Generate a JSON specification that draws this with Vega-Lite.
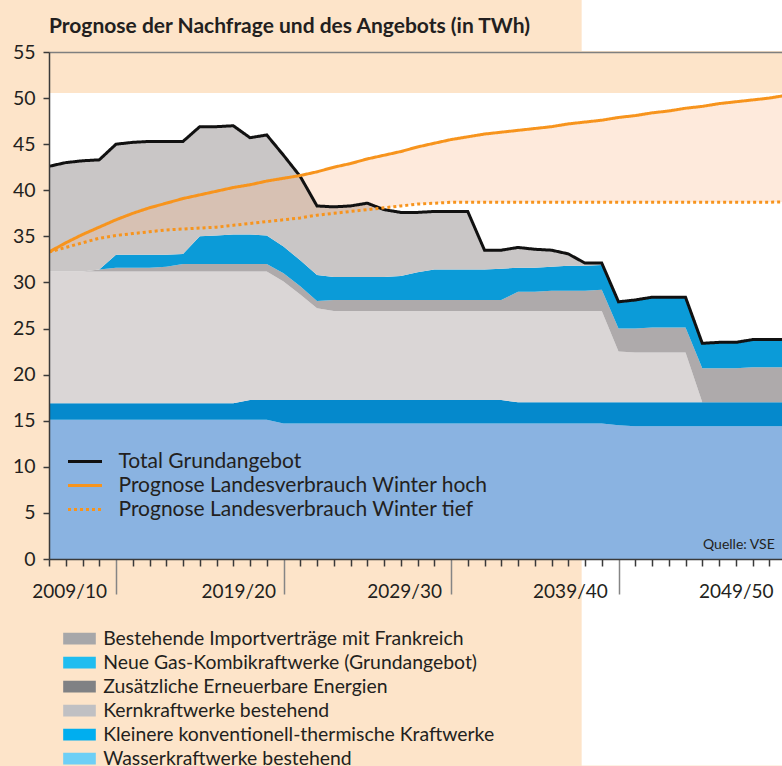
{
  "$schema": "https://vega.github.io/schema/vega-lite/v6.json",
  "width": 733,
  "height": 507,
  "autosize": {"type": "none"},
  "padding": {"left": 49, "top": 52, "right": 0, "bottom": 207},
  "background": "#fde4c9",
  "title": {"text": "Prognose der Nachfrage und des Angebots (in TWh)", "anchor": "start", "frame": "group", "orient": "top", "font": "Lato", "fontSize": 21, "fontWeight": "bold", "color": "#231f20", "baseline": "alphabetic", "offset": -54},
  "datasets": {
    "sources": [
      {"code": "a", "name": "Wasserkraftwerke bestehend"},
      {"code": "b", "name": "Kleinere konventionell-thermische Kraftwerke"},
      {"code": "c", "name": "Kernkraftwerke bestehend"},
      {"code": "d", "name": "Zusätzliche Erneuerbare Energien"},
      {"code": "e", "name": "Neue Gas-Kombikraftwerke (Grundangebot)"},
      {"code": "f", "name": "Bestehende Importverträge mit Frankreich"}
    ],
    "series": [
      {"code": "total", "name": "Total Grundangebot"},
      {"code": "hoch", "name": "Prognose Landesverbrauch Winter hoch"},
      {"code": "tief", "name": "Prognose Landesverbrauch Winter tief"}
    ],
    "years": [
      {"t":2006,"a":15.1,"b":1.8,"c":14.3,"d":0,"e":0,"f":11.4,"total":42.6,"hoch":33.3,"tief":33.3},
      {"t":2007,"a":15.1,"b":1.8,"c":14.3,"d":0,"e":0,"f":11.8,"total":43.0,"hoch":34.3,"tief":33.8},
      {"t":2008,"a":15.1,"b":1.8,"c":14.3,"d":0,"e":0,"f":12.0,"total":43.2,"hoch":35.2,"tief":34.3},
      {"t":2009,"a":15.1,"b":1.8,"c":14.3,"d":0.2,"e":0,"f":11.9,"total":43.3,"hoch":36.0,"tief":34.8},
      {"t":2010,"a":15.1,"b":1.8,"c":14.3,"d":0.4,"e":1.4,"f":12.0,"total":45.0,"hoch":36.8,"tief":35.1},
      {"t":2011,"a":15.1,"b":1.8,"c":14.3,"d":0.4,"e":1.4,"f":12.2,"total":45.2,"hoch":37.5,"tief":35.3},
      {"t":2012,"a":15.1,"b":1.8,"c":14.3,"d":0.4,"e":1.4,"f":12.3,"total":45.3,"hoch":38.1,"tief":35.5},
      {"t":2013,"a":15.1,"b":1.8,"c":14.3,"d":0.5,"e":1.3,"f":12.3,"total":45.3,"hoch":38.6,"tief":35.7},
      {"t":2014,"a":15.1,"b":1.8,"c":14.3,"d":0.8,"e":1.1,"f":12.2,"total":45.3,"hoch":39.1,"tief":35.8},
      {"t":2015,"a":15.1,"b":1.8,"c":14.3,"d":0.8,"e":3.0,"f":11.9,"total":46.9,"hoch":39.5,"tief":35.9},
      {"t":2016,"a":15.1,"b":1.8,"c":14.3,"d":0.8,"e":3.1,"f":11.8,"total":46.9,"hoch":39.9,"tief":36.0},
      {"t":2017,"a":15.1,"b":1.8,"c":14.3,"d":0.8,"e":3.2,"f":11.8,"total":47.0,"hoch":40.3,"tief":36.2},
      {"t":2018,"a":15.1,"b":2.15,"c":13.95,"d":0.8,"e":3.2,"f":10.5,"total":45.7,"hoch":40.6,"tief":36.4},
      {"t":2019,"a":15.1,"b":2.15,"c":13.95,"d":0.8,"e":3.1,"f":10.9,"total":46.0,"hoch":41.0,"tief":36.6},
      {"t":2020,"a":14.7,"b":2.55,"c":12.85,"d":0.9,"e":2.9,"f":9.9,"total":43.8,"hoch":41.3,"tief":36.8},
      {"t":2021,"a":14.7,"b":2.55,"c":11.45,"d":0.9,"e":2.8,"f":9.1,"total":41.5,"hoch":41.6,"tief":37.0},
      {"t":2022,"a":14.7,"b":2.55,"c":9.95,"d":0.8,"e":2.8,"f":7.5,"total":38.3,"hoch":42.0,"tief":37.3},
      {"t":2023,"a":14.7,"b":2.55,"c":9.65,"d":1.2,"e":2.5,"f":7.6,"total":38.2,"hoch":42.5,"tief":37.5},
      {"t":2024,"a":14.7,"b":2.55,"c":9.65,"d":1.2,"e":2.5,"f":7.7,"total":38.3,"hoch":42.9,"tief":37.7},
      {"t":2025,"a":14.7,"b":2.55,"c":9.65,"d":1.2,"e":2.5,"f":8.0,"total":38.6,"hoch":43.4,"tief":37.9},
      {"t":2026,"a":14.7,"b":2.55,"c":9.65,"d":1.2,"e":2.5,"f":7.3,"total":37.9,"hoch":43.8,"tief":38.1},
      {"t":2027,"a":14.7,"b":2.55,"c":9.65,"d":1.2,"e":2.6,"f":6.9,"total":37.6,"hoch":44.2,"tief":38.3},
      {"t":2028,"a":14.7,"b":2.55,"c":9.65,"d":1.2,"e":3.0,"f":6.5,"total":37.6,"hoch":44.7,"tief":38.5},
      {"t":2029,"a":14.7,"b":2.55,"c":9.65,"d":1.2,"e":3.3,"f":6.3,"total":37.7,"hoch":45.1,"tief":38.6},
      {"t":2030,"a":14.7,"b":2.55,"c":9.65,"d":1.2,"e":3.3,"f":6.3,"total":37.7,"hoch":45.5,"tief":38.7},
      {"t":2031,"a":14.7,"b":2.55,"c":9.65,"d":1.2,"e":3.3,"f":6.3,"total":37.7,"hoch":45.8,"tief":38.7},
      {"t":2032,"a":14.7,"b":2.55,"c":9.65,"d":1.2,"e":3.3,"f":2.1,"total":33.5,"hoch":46.1,"tief":38.7},
      {"t":2033,"a":14.7,"b":2.55,"c":9.65,"d":1.2,"e":3.4,"f":2.0,"total":33.5,"hoch":46.3,"tief":38.7},
      {"t":2034,"a":14.7,"b":2.3,"c":9.9,"d":2.1,"e":2.6,"f":2.2,"total":33.8,"hoch":46.5,"tief":38.7},
      {"t":2035,"a":14.7,"b":2.3,"c":9.9,"d":2.1,"e":2.6,"f":2.0,"total":33.6,"hoch":46.7,"tief":38.7},
      {"t":2036,"a":14.7,"b":2.3,"c":9.9,"d":2.2,"e":2.6,"f":1.8,"total":33.5,"hoch":46.9,"tief":38.7},
      {"t":2037,"a":14.7,"b":2.3,"c":9.9,"d":2.2,"e":2.7,"f":1.3,"total":33.1,"hoch":47.2,"tief":38.7},
      {"t":2038,"a":14.7,"b":2.3,"c":9.9,"d":2.2,"e":2.7,"f":0.3,"total":32.1,"hoch":47.4,"tief":38.7},
      {"t":2039,"a":14.7,"b":2.3,"c":9.9,"d":2.3,"e":2.7,"f":0.2,"total":32.1,"hoch":47.6,"tief":38.7},
      {"t":2040,"a":14.5,"b":2.5,"c":5.5,"d":2.5,"e":2.9,"f":0,"total":27.9,"hoch":47.9,"tief":38.7},
      {"t":2041,"a":14.4,"b":2.6,"c":5.4,"d":2.6,"e":3.1,"f":0,"total":28.1,"hoch":48.1,"tief":38.7},
      {"t":2042,"a":14.4,"b":2.6,"c":5.4,"d":2.7,"e":3.3,"f":0,"total":28.4,"hoch":48.4,"tief":38.7},
      {"t":2043,"a":14.4,"b":2.6,"c":5.4,"d":2.7,"e":3.3,"f":0,"total":28.4,"hoch":48.6,"tief":38.7},
      {"t":2044,"a":14.4,"b":2.6,"c":5.4,"d":2.7,"e":3.3,"f":0,"total":28.4,"hoch":48.9,"tief":38.7},
      {"t":2045,"a":14.4,"b":2.6,"c":0,"d":3.7,"e":2.7,"f":0,"total":23.4,"hoch":49.1,"tief":38.7},
      {"t":2046,"a":14.4,"b":2.6,"c":0,"d":3.7,"e":2.8,"f":0,"total":23.5,"hoch":49.4,"tief":38.7},
      {"t":2047,"a":14.4,"b":2.6,"c":0,"d":3.7,"e":2.8,"f":0,"total":23.5,"hoch":49.6,"tief":38.7},
      {"t":2048,"a":14.4,"b":2.6,"c":0,"d":3.8,"e":3.0,"f":0,"total":23.8,"hoch":49.8,"tief":38.7},
      {"t":2049,"a":14.4,"b":2.6,"c":0,"d":3.8,"e":3.0,"f":0,"total":23.8,"hoch":50.0,"tief":38.7},
      {"t":2050,"a":14.4,"b":2.6,"c":0,"d":3.8,"e":3.0,"f":0,"total":23.8,"hoch":50.3,"tief":38.75}
    ]
  },
  "layer": [
    {
      "data": {"values": [{}]},
      "mark": {"type": "rect", "color": "#ffffff"},
      "encoding": {
        "x": {"datum": 2006, "type": "quantitative", "scale": {"domain": [2006, 2049.76], "nice": false, "zero": false}, "axis": null},
        "x2": {"datum": 2049.76},
        "y": {"datum": 0, "type": "quantitative", "scale": {"domain": [0, 55], "nice": false, "zero": false}, "axis": null},
        "y2": {"datum": 50.55}
      }
    },
    {
      "data": {"values": [{}]},
      "mark": {"type": "rect", "color": "#ffffff"},
      "encoding": {
        "x": {"datum": 2037.8, "type": "quantitative", "scale": {"domain": [2006, 2049.76], "nice": false, "zero": false}, "axis": null},
        "x2": {"datum": 2050.5},
        "y": {"datum": 55.1, "type": "quantitative", "scale": {"domain": [0, 55], "nice": false, "zero": false}, "axis": null},
        "y2": {"datum": 60.64}
      }
    },
    {
      "data": {"values": [{}]},
      "mark": {"type": "rect", "color": "#ffffff"},
      "encoding": {
        "x": {"datum": 2037.8, "type": "quantitative", "scale": {"domain": [2006, 2049.76], "nice": false, "zero": false}, "axis": null},
        "x2": {"datum": 2050.5},
        "y": {"datum": 0, "type": "quantitative", "scale": {"domain": [0, 55], "nice": false, "zero": false}, "axis": null},
        "y2": {"datum": -22.4}
      }
    },
    {
      "data": {"name": "years"},
      "transform": [
        {"fold": ["a", "b", "c", "d", "e", "f"], "as": ["code", "value"]},
        {"lookup": "code", "from": {"data": {"name": "sources"}, "key": "code", "fields": ["name"]}}
      ],
      "mark": {"type": "area", "clip": true},
      "encoding": {
        "x": {"field": "t", "type": "quantitative", "scale": {"domain": [2006, 2049.76], "nice": false, "zero": false},
          "axis": {"orient": "bottom", "title": null, "values": [2006,2007,2008,2009,2010,2011,2012,2013,2014,2015,2016,2017,2018,2019,2020,2021,2022,2023,2024,2025,2026,2027,2028,2029,2030,2031,2032,2033,2034,2035,2036,2037,2038,2039,2040,2041,2042,2043,2044,2045,2046,2047,2048,2049],
            "labels": false, "grid": false, "zindex": 1, "domainColor": "#3a3a3a", "domainWidth": 1.5, "tickWidth": 1.5,
            "tickSize": {"condition": {"test": "datum.value % 10 === 0", "value": 35}, "value": 7},
            "tickColor": {"condition": {"test": "datum.value % 10 === 0", "value": "#858585"}, "value": "#3a3a3a"}}},
        "y": {"field": "value", "type": "quantitative", "stack": "zero", "scale": {"domain": [0, 55], "nice": false, "zero": false},
          "axis": {"orient": "left", "title": null, "values": [0,5,10,15,20,25,30,35,40,45,50,55], "zindex": 1, "domainColor": "#3a3a3a", "domainWidth": 1.5,
            "tickSize": 6, "tickWidth": 1.5, "tickColor": "#3a3a3a", "labelPadding": 8, "labelFont": "Lato", "labelFontSize": 19.5, "labelColor": "#231f20",
            "grid": true, "gridColor": "#7f7f7f", "gridWidth": 1.5,
            "gridOpacity": {"condition": {"test": "datum.value === 55", "value": 1}, "value": 0}}},
        "color": {"field": "name", "type": "nominal", "legend": null,
          "scale": {"domain": ["Wasserkraftwerke bestehend", "Kleinere konventionell-thermische Kraftwerke", "Kernkraftwerke bestehend", "Zusätzliche Erneuerbare Energien", "Neue Gas-Kombikraftwerke (Grundangebot)", "Bestehende Importverträge mit Frankreich"],
            "range": ["#8ab3e1", "#0589cc", "#dad6d6", "#aeaaab", "#0b9bd8", "#c9c6c6"]}},
        "order": {"field": "code", "sort": "ascending"}
      }
    },
    {
      "data": {"name": "years"},
      "mark": {"type": "area", "clip": true, "color": "#fbb482", "opacity": 0.28},
      "encoding": {
        "x": {"field": "t", "type": "quantitative", "scale": {"domain": [2006, 2049.76], "nice": false, "zero": false},
          "axis": {"orient": "bottom", "title": null, "values": [2007.2, 2017.3, 2027.2, 2037.1, 2047.0], "ticks": false, "tickSize": 0, "domain": false, "grid": false, "zindex": 1,
            "labelExpr": "datum.value < 2010 ? '2009/10' : datum.value < 2020 ? '2019/20' : datum.value < 2030 ? '2029/30' : datum.value < 2040 ? '2039/40' : '2049/50'",
            "labelFont": "Lato", "labelFontSize": 19, "labelColor": "#231f20", "labelPadding": 38, "labelBaseline": "alphabetic", "labelAlign": "center", "labelFlush": false, "labelOverlap": false}},
        "y": {"field": "tief", "type": "quantitative", "scale": {"domain": [0, 55], "nice": false, "zero": false}, "axis": null},
        "y2": {"field": "hoch"}
      }
    },
    {
      "data": {"name": "years"},
      "transform": [
        {"fold": ["total", "hoch", "tief"], "as": ["code", "value"]},
        {"lookup": "code", "from": {"data": {"name": "series"}, "key": "code", "fields": ["name"]}}
      ],
      "mark": {"type": "line", "clip": true, "strokeWidth": 3},
      "encoding": {
        "x": {"field": "t", "type": "quantitative", "scale": {"domain": [2006, 2049.76], "nice": false, "zero": false}, "axis": null},
        "y": {"field": "value", "type": "quantitative", "scale": {"domain": [0, 55], "nice": false, "zero": false}, "axis": null},
        "color": {"field": "name", "type": "nominal",
          "scale": {"domain": ["Total Grundangebot", "Prognose Landesverbrauch Winter hoch", "Prognose Landesverbrauch Winter tief"], "range": ["#111111", "#f7941d", "#f7941d"]},
          "legend": {"orient": "none", "legendX": 25.5, "legendY": 399, "direction": "vertical", "title": null, "padding": 0, "symbolType": "M-2,0H2", "symbolSize": 289, "symbolStrokeWidth": 3, "labelFont": "Lato", "labelFontSize": 21, "labelColor": "#231f20", "labelOffset": 23, "labelLimit": 700, "rowPadding": 2}},
        "strokeDash": {"field": "name", "type": "nominal",
          "scale": {"domain": ["Total Grundangebot", "Prognose Landesverbrauch Winter hoch", "Prognose Landesverbrauch Winter tief"], "range": [[1, 0], [1, 0], [3, 3]]},
          "legend": {"orient": "none", "legendX": 25.5, "legendY": 399, "direction": "vertical", "title": null, "padding": 0, "symbolType": "M-2,0H2", "symbolSize": 289, "symbolStrokeWidth": 3, "labelFont": "Lato", "labelFontSize": 21, "labelColor": "#231f20", "labelOffset": 23, "labelLimit": 700, "rowPadding": 2}}
      }
    },
    {
      "data": {"name": "sources"},
      "mark": {"type": "square", "opacity": 0},
      "encoding": {
        "color": {"field": "name", "type": "nominal",
          "scale": {"domain": ["Bestehende Importverträge mit Frankreich", "Neue Gas-Kombikraftwerke (Grundangebot)", "Zusätzliche Erneuerbare Energien", "Kernkraftwerke bestehend", "Kleinere konventionell-thermische Kraftwerke", "Wasserkraftwerke bestehend"],
            "range": ["#a7a7a9", "#1fbdf0", "#808184", "#c0c0c3", "#00aeef", "#6dcff6"]},
          "legend": {"orient": "none", "legendX": 20.8, "legendY": 577, "direction": "vertical", "title": null, "padding": 0, "symbolType": "M-2,-0.72H2V0.72H-2Z", "symbolSize": 266, "symbolStrokeWidth": 0, "symbolOpacity": 1, "labelFont": "Lato", "labelFontSize": 19.4, "labelColor": "#231f20", "labelOffset": 14, "labelLimit": 700, "rowPadding": 3}}
      }
    },
    {
      "data": {"values": [{"note": "Quelle: VSE"}]},
      "mark": {"type": "text", "align": "right", "baseline": "middle", "font": "Lato", "fontSize": 14, "color": "#231f20"},
      "encoding": {
        "x": {"datum": 2049.33, "type": "quantitative", "scale": {"domain": [2006, 2049.76], "nice": false, "zero": false}, "axis": null},
        "y": {"datum": 1.5, "type": "quantitative", "scale": {"domain": [0, 55], "nice": false, "zero": false}, "axis": null},
        "text": {"field": "note"}
      }
    }
  ],
  "resolve": {"scale": {"color": "independent", "strokeDash": "independent"}, "axis": {"x": "independent", "y": "independent"}},
  "config": {"view": {"stroke": null}, "font": "Lato"}
}
